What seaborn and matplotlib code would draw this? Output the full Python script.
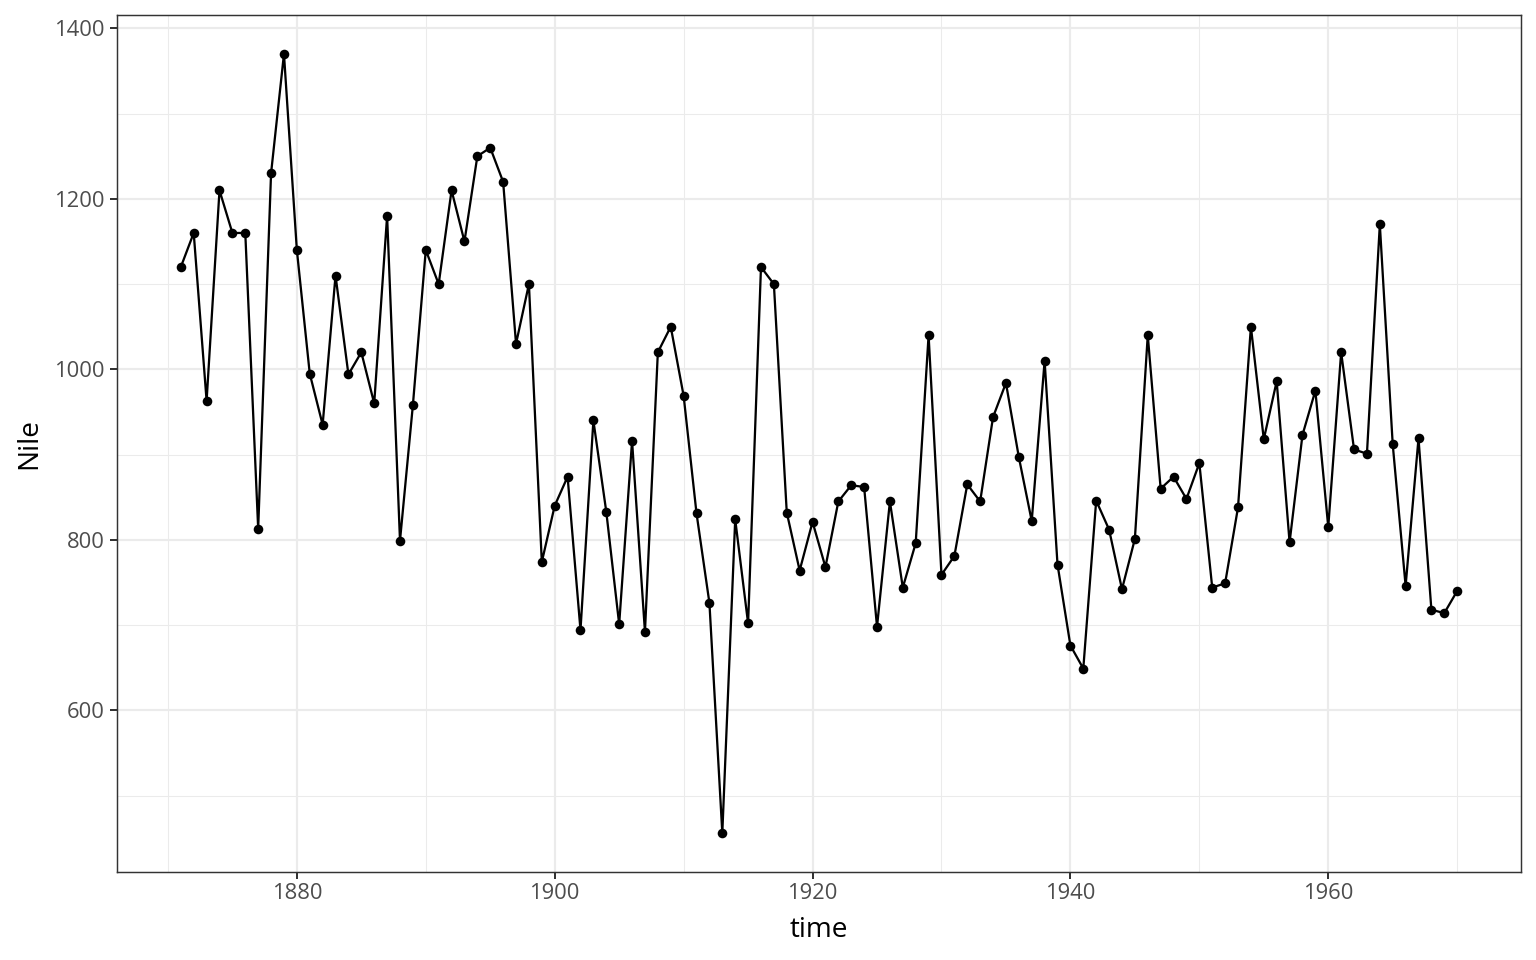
import numpy as np
import pandas as pd
import matplotlib
matplotlib.use("Agg")
import matplotlib.pyplot as plt
import seaborn as sns
from matplotlib.ticker import MultipleLocator

# Nile annual flow, 1871-1970
years = list(range(1871, 1971))
flow = [1120, 1160, 963, 1210, 1160, 1160, 813, 1230, 1370, 1140,
        995, 935, 1110, 994, 1020, 960, 1180, 799, 958, 1140,
        1100, 1210, 1150, 1250, 1260, 1220, 1030, 1100, 774, 840,
        874, 694, 940, 833, 701, 916, 692, 1020, 1050, 969,
        831, 726, 456, 824, 702, 1120, 1100, 832, 764, 821,
        768, 845, 864, 862, 698, 845, 744, 796, 1040, 759,
        781, 865, 845, 944, 984, 897, 822, 1010, 771, 676,
        649, 846, 812, 742, 801, 1040, 860, 874, 848, 890,
        744, 749, 838, 1050, 918, 986, 797, 923, 975, 815,
        1020, 906, 901, 1170, 912, 746, 919, 718, 714, 740]

df = pd.DataFrame({"time": years, "Nile": flow})

sns.set_theme(style="white")
plt.rcParams['font.family'] = ['Open Sans', 'DejaVu Sans']

fig = plt.figure(figsize=(16, 10), dpi=96)
# panel from x=117..1521, y=15..872 px
ax = fig.add_axes([117 / 1536, 1 - 872 / 960, 1404 / 1536, 857 / 960])

sns.lineplot(data=df, x="time", y="Nile", color="black", linewidth=1.7, ax=ax, zorder=3)
sns.scatterplot(data=df, x="time", y="Nile", color="black", s=52, edgecolor="black",
                linewidth=0, ax=ax, zorder=4)

# ggplot-like 5% expansion
xr = max(years) - min(years)
yr = max(flow) - min(flow)
ax.set_xlim(min(years) - 0.05 * xr, max(years) + 0.05 * xr)
ax.set_ylim(min(flow) - 0.05 * yr, max(flow) + 0.05 * yr)

ax.xaxis.set_major_locator(MultipleLocator(20))
ax.xaxis.set_minor_locator(MultipleLocator(10))
ax.yaxis.set_major_locator(MultipleLocator(200))
ax.yaxis.set_minor_locator(MultipleLocator(100))

ax.grid(which="major", color="#EBEBEB", linewidth=1.6, zorder=0)
ax.grid(which="minor", color="#EBEBEB", linewidth=0.8, zorder=0)
ax.set_axisbelow(True)

for s in ax.spines.values():
    s.set_color("#333333")
    s.set_linewidth(1.1)

ax.tick_params(which="major", length=5.2, width=1.5, color="#333333",
               labelcolor="#4D4D4D", labelsize=16.5, left=True, bottom=True)
ax.tick_params(axis="x", pad=3)
ax.tick_params(axis="y", pad=4)
ax.tick_params(which="minor", length=0)

ax.set_xlabel("time", fontsize=21, color="black", labelpad=9)
ax.set_ylabel("Nile", fontsize=21, color="black", labelpad=8)

fig.savefig("out.png", dpi=96, facecolor="white")
